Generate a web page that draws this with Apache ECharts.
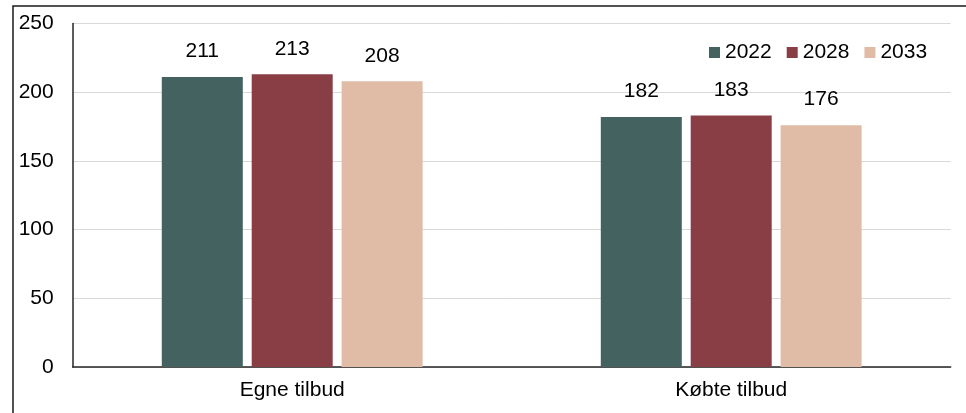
<!DOCTYPE html>
<html>
<head>
<meta charset="utf-8">
<script src="https://cdn.jsdelivr.net/npm/echarts@6/dist/echarts.min.js"></script>
<style>
html,body{margin:0;padding:0;background:#fff;}
#chart{width:966px;height:413px;}
</style>
</head>
<body>
<div id="chart"></div>
<script>
const categories = ['Egne tilbud', 'Købte tilbud'];
const seriesNames = ['2022', '2028', '2033'];
const values2022 = [211, 182];
const values2028 = [213, 183];
const values2033 = [208, 176];
const colors = ['#44625F', '#893E46', '#E0BCA6'];
const yTicks = [0, 50, 100, 150, 200, 250];

const FONT = '"Liberation Sans", Arial, sans-serif';
const allValues = [values2022, values2028, values2033];

const chart = echarts.init(document.getElementById('chart'), null, {renderer: 'canvas'});
chart.setOption({
  animation: false,
  backgroundColor: '#ffffff',
  textStyle: {fontFamily: FONT},
  grid: {left: 72.7, right: 15.3, top: 23.5, bottom: 46, containLabel: false},
  legend: {
    data: seriesNames,
    left: 709,
    top: 42,
    padding: 0,
    itemGap: 15,
    itemWidth: 11,
    itemHeight: 11,
    icon: 'rect',
    textStyle: {fontSize: 21, color: '#000', fontFamily: FONT}
  },
  xAxis: {
    type: 'category',
    data: categories,
    axisLine: {show: true, lineStyle: {color: '#262626', width: 1.5}},
    axisTick: {show: false},
    axisLabel: {fontSize: 21, color: '#000', margin: 13, fontFamily: FONT}
  },
  yAxis: {
    type: 'value',
    min: yTicks[0],
    max: yTicks[yTicks.length - 1],
    interval: 50,
    axisLine: {show: true, lineStyle: {color: '#262626', width: 1.5}},
    axisTick: {show: false},
    splitLine: {show: true, lineStyle: {color: '#d9d9d9', width: 1}},
    axisLabel: {fontSize: 21, color: '#000', margin: 19, fontFamily: FONT}
  },
  series: seriesNames.map((name, i) => ({
    name: name,
    type: 'bar',
    data: allValues[i],
    barWidth: 81,
    barGap: '11%',
    itemStyle: {color: colors[i]},
    label: {
      show: true,
      position: 'top',
      distance: 15,
      fontSize: 21,
      color: '#000',
      fontFamily: FONT
    }
  })),
  graphic: [{
    type: 'polyline',
    silent: true,
    z: 100,
    shape: {points: [[13, 413], [13, 6], [966, 6]]},
    style: {stroke: '#1a1a1a', lineWidth: 1.5, fill: null}
  }]
});
</script>
</body>
</html>
